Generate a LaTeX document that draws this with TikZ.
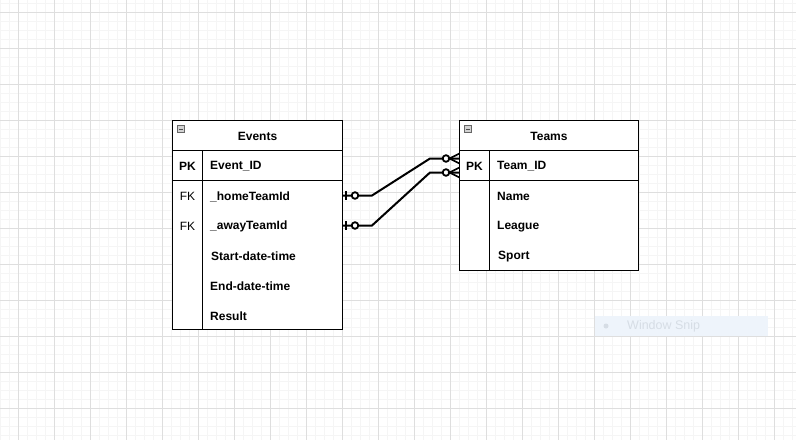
\documentclass[tikz,border=0pt]{standalone}
\usepackage{fontspec}
\setmainfont{Liberation Sans}
\usetikzlibrary{calc}
\definecolor{gridminor}{HTML}{F5F5F5}
\definecolor{gridmajor}{HTML}{DEDEDE}
\definecolor{snipfill}{HTML}{EEF4FB}
\definecolor{sniptext}{HTML}{D6DDE5}
\begin{document}
\begin{tikzpicture}[x=1pt,y=-1pt,
  boxline/.style={draw=black, line width=1.1pt},
  cellbox/.style={inner sep=0pt, outer sep=0pt, anchor=north west},
  hdrtext/.style={inner sep=0pt, font=\fontsize{12}{14}\selectfont\bfseries},
  keytext/.style={inner sep=0pt, font=\fontsize{12}{14}\selectfont\bfseries},
  fktext/.style={inner sep=0pt, font=\fontsize{12}{14}\selectfont},
  fieldtext/.style={inner sep=0pt, anchor=west, font=\fontsize{12}{14}\selectfont\bfseries},
  conn/.style={draw=black, line width=2pt},
  iconbox/.style={draw=gray!80!black, fill=gray!35, line width=0.6pt, minimum width=7pt, minimum height=7pt, inner sep=0pt}
]
% background and grid
\fill[white] (0,0) rectangle (796,440);
\useasboundingbox (0,0) rectangle (796,440);
\foreach \gx in {0,9,...,792} \draw[gridminor, line width=0.6pt] (\gx,0) -- (\gx,440);
\foreach \gy in {3,12,...,440} \draw[gridminor, line width=0.6pt] (0,\gy) -- (796,\gy);
\foreach \gx in {18,54,...,792} \draw[gridmajor, line width=0.8pt] (\gx,0) -- (\gx,440);
\foreach \gy in {12,48,...,440} \draw[gridmajor, line width=0.8pt] (0,\gy) -- (796,\gy);

% window snip ghost
\node[cellbox, fill=snipfill, minimum width=173pt, minimum height=20pt] (snip) at (595,316) {};
\fill[sniptext] (606,326) circle (2.5);
\node[inner sep=0pt, anchor=west, text=sniptext, font=\fontsize{12.5}{14}\selectfont] (sniplabel) at (627,326.5) {Window Snip};

% ---------- Events table ----------
\node[cellbox, fill=white, minimum width=170pt, minimum height=209pt] (events) at (172.5,120.5) {};
\node[cellbox, minimum width=170pt, minimum height=30pt] (evHead) at (172.5,120.5) {};
\node[cellbox, minimum width=170pt, minimum height=30pt] (evPKRow) at (172.5,150.5) {};
\node[cellbox, minimum width=170pt, minimum height=30pt] (evHomeRow) at (172.5,180.5) {};
\node[cellbox, minimum width=170pt, minimum height=30pt] (evAwayRow) at (172.5,210.5) {};
\draw[boxline] (events.north west) rectangle (events.south east);
\draw[boxline] (evHead.south west) -- (evHead.south east);
\draw[boxline] (evPKRow.south west) -- (evPKRow.south east);
\draw[boxline] (202.5,150.5) -- (202.5,329.5);
\node[iconbox] (evIcon) at (181,129) {};
\draw[black!70, line width=0.8pt] (178.8,129) -- (183.2,129);
\node[hdrtext] (evTitle) at (257.5,136.5) {Events};
\node[keytext] (evPK) at (187.5,166.5) {PK};
\node[fktext] (evFK1) at (187.5,196.5) {FK};
\node[fktext] (evFK2) at (187.5,226.5) {FK};
\node[fieldtext] (evF1) at (210,166.5) {Event\_ID};
\node[fieldtext] (evF2) at (210,196.5) {\_homeTeamId};
\node[fieldtext] (evF3) at (210,226.5) {\_awayTeamId};
\node[fieldtext] (evF4) at (211,256.5) {Start-date-time};
\node[fieldtext] (evF5) at (210,286.5) {End-date-time};
\node[fieldtext] (evF6) at (210,316.5) {Result};

% ---------- Teams table ----------
\node[cellbox, fill=white, minimum width=179pt, minimum height=150pt] (teams) at (459.5,120.5) {};
\node[cellbox, minimum width=179pt, minimum height=30pt] (tmHead) at (459.5,120.5) {};
\node[cellbox, minimum width=179pt, minimum height=30pt] (tmPKRow) at (459.5,150.5) {};
\draw[boxline] (teams.north west) rectangle (teams.south east);
\draw[boxline] (tmHead.south west) -- (tmHead.south east);
\draw[boxline] (tmPKRow.south west) -- (tmPKRow.south east);
\draw[boxline] (489.5,150.5) -- (489.5,270.5);
\node[iconbox] (tmIcon) at (468,129) {};
\draw[black!70, line width=0.8pt] (465.8,129) -- (470.2,129);
\node[hdrtext] (tmTitle) at (549,136.5) {Teams};
\node[keytext] (tmPK) at (474.5,166.5) {PK};
\node[fieldtext] (tmF1) at (497,166.5) {Team\_ID};
\node[fieldtext] (tmF2) at (497,196.5) {Name};
\node[fieldtext] (tmF3) at (497,226.5) {League};
\node[fieldtext] (tmF4) at (498,256.5) {Sport};

% ---------- connectors ----------
\coordinate (endHome) at ($(tmPKRow.west)+(0,-7)$);
\coordinate (endAway) at ($(tmPKRow.west)+(0,7)$);
\draw[conn] (evHomeRow.east) -- ++(29.5,0) -- ($(endHome)+(-29.5,0)$) -- (endHome);
\draw[conn] (evAwayRow.east) -- ++(29.5,0) -- ($(endAway)+(-29.5,0)$) -- (endAway);
% zero-or-one markers at Events side
\foreach \src in {evHomeRow,evAwayRow}{
  \draw[conn, line width=2pt] ($(\src.east)+(3,-4.5)$) -- ++(0,9);
  \draw[conn, line width=1.8pt, fill=white] ($(\src.east)+(12.5,0)$) circle (3.3);
}
% zero-or-many markers at Teams side
\foreach \dst in {endHome,endAway}{
  \draw[conn, line width=1.8pt, fill=white] ($(\dst)+(-13.5,0)$) circle (3.3);
  \draw[conn, line width=1.6pt] ($(\dst)+(0,-5)$) -- ($(\dst)+(-10,0)$) -- ($(\dst)+(0,5)$);
}
\end{tikzpicture}
\end{document}
